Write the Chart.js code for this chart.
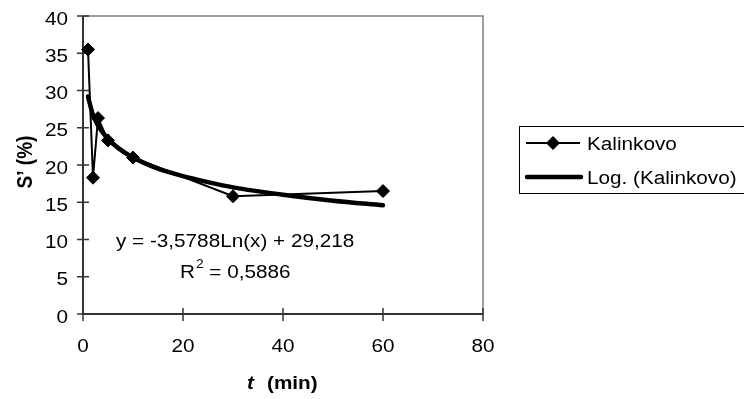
<!DOCTYPE html>
<html>
<head>
<meta charset="utf-8">
<script src="https://cdn.jsdelivr.net/npm/chart.js@4/dist/chart.umd.min.js"></script>
<style>
  html, body { margin: 0; padding: 0; background: #ffffff; }
  #wrap { width: 744px; height: 399px; position: relative; }
</style>
</head>
<body>
<div id="wrap"><canvas id="c" width="744" height="399"></canvas></div>
<script>
// ---- data ----
const timeMin = [1, 2, 3, 5, 10, 30, 60];
const kalinkovo = [35.5, 18.3, 26.3, 23.3, 21.0, 15.8, 16.5];
const trendTime = [1, 2, 3, 4, 5, 7, 10, 15, 20, 25, 30, 40, 50, 60];
const trendValues = [29.2, 26.7, 25.3, 24.3, 23.5, 22.3, 21.0, 19.5, 18.5, 17.7, 17.0, 16.0, 15.2, 14.6];
const xTickValues = [0, 20, 40, 60, 80];
const yTickValues = [0, 5, 10, 15, 20, 25, 30, 35, 40];
const seriesLabels = ['Kalinkovo', 'Log. (Kalinkovo)'];
const equationText = 'y = -3,5788Ln(x) + 29,218';
const r2Value = '0,5886';

const FONT = '"Liberation Sans", Arial, sans-serif';
const SX = 1.15; // the reference text is drawn horizontally widened

const pointsOf = (xs, ys) => xs.map((x, i) => ({ x: x, y: ys[i] }));

function wideText(ctx, text, x, y, align) {
  ctx.save();
  ctx.translate(x, y);
  ctx.scale(SX, 1);
  ctx.textAlign = align || 'left';
  ctx.fillText(text, 0, 0);
  ctx.restore();
  return ctx.measureText(text).width * SX;
}

const decorPlugin = {
  id: 'decor',
  beforeDatasetsDraw(chart) {
    const { ctx, chartArea: a, scales } = chart;
    ctx.save();
    // top and right frame of the plot area
    ctx.strokeStyle = '#808080';
    ctx.lineWidth = 1.5;
    ctx.beginPath();
    ctx.moveTo(a.left, a.top); ctx.lineTo(a.right, a.top); ctx.lineTo(a.right, a.bottom);
    ctx.stroke();
    // crossing tick marks
    ctx.strokeStyle = '#333';
    ctx.lineWidth = 1.5;
    yTickValues.forEach(v => {
      const y = scales.y.getPixelForValue(v);
      ctx.beginPath(); ctx.moveTo(a.left - 6, y); ctx.lineTo(a.left + 6, y); ctx.stroke();
    });
    xTickValues.forEach(v => {
      const x = scales.x.getPixelForValue(v);
      ctx.beginPath(); ctx.moveTo(x, a.bottom - 6); ctx.lineTo(x, a.bottom + 7); ctx.stroke();
    });
    // axis lines
    ctx.strokeStyle = '#333';
    ctx.lineWidth = 2;
    ctx.beginPath();
    ctx.moveTo(a.left, a.top); ctx.lineTo(a.left, a.bottom); ctx.lineTo(a.right, a.bottom);
    ctx.stroke();
    ctx.restore();
  },
  afterDraw(chart) {
    const { ctx, chartArea: a, scales } = chart;
    ctx.save();
    ctx.fillStyle = '#000';
    ctx.textBaseline = 'alphabetic';
    ctx.font = '18px ' + FONT;

    // tick labels
    yTickValues.forEach(v => {
      wideText(ctx, String(v), a.left - 15, scales.y.getPixelForValue(v) + 8.5, 'right');
    });
    xTickValues.forEach(v => {
      wideText(ctx, String(v), scales.x.getPixelForValue(v), a.bottom + 38, 'center');
    });

    // equation text
    wideText(ctx, equationText, 116, 247, 'left');
    let rx = 180;
    rx += wideText(ctx, 'R', rx, 278, 'left');
    ctx.font = '12px ' + FONT;
    rx += wideText(ctx, '2', rx + 1, 268, 'left') + 1;
    ctx.font = '18px ' + FONT;
    wideText(ctx, ' = ' + r2Value, rx, 278, 'left');

    // x axis title: t (min)
    ctx.font = 'italic bold 18px ' + FONT;
    wideText(ctx, 't', 247, 389, 'left');
    ctx.font = 'bold 18px ' + FONT;
    wideText(ctx, '(min)', 267, 389, 'left');

    // y axis title (rotated; widening acts across the text)
    ctx.save();
    ctx.translate(32, 162);
    ctx.rotate(-Math.PI / 2);
    ctx.scale(1, SX);
    ctx.textAlign = 'center';
    ctx.font = 'bold 19px ' + FONT;
    ctx.fillText('S\u2019 (%)', 0, 0);
    ctx.restore();

    // legend box
    const lx = 519, ly = 126, lw = 240, lh = 67;
    ctx.fillStyle = '#fff';
    ctx.fillRect(lx, ly, lw, lh);
    ctx.strokeStyle = '#000';
    ctx.lineWidth = 1;
    ctx.strokeRect(lx + 0.5, ly + 0.5, lw, lh);
    const ds = chart.data.datasets;
    // entry 1
    ctx.strokeStyle = ds[0].borderColor;
    ctx.lineWidth = ds[0].borderWidth;
    ctx.beginPath(); ctx.moveTo(526, 143); ctx.lineTo(580, 143); ctx.stroke();
    ctx.fillStyle = '#000';
    ctx.beginPath();
    ctx.moveTo(553, 136); ctx.lineTo(560, 143); ctx.lineTo(553, 150); ctx.lineTo(546, 143); ctx.closePath();
    ctx.fill();
    // entry 2
    ctx.strokeStyle = ds[1].borderColor;
    ctx.lineWidth = ds[1].borderWidth;
    ctx.lineCap = 'round';
    ctx.beginPath(); ctx.moveTo(527, 177); ctx.lineTo(581, 177); ctx.stroke();
    ctx.font = '18px ' + FONT;
    ctx.fillStyle = '#000';
    wideText(ctx, ds[0].label, 587, 150, 'left');
    wideText(ctx, ds[1].label, 587, 184, 'left');
    ctx.restore();
  }
};

new Chart(document.getElementById('c'), {
  type: 'scatter',
  data: {
    datasets: [
      {
        label: seriesLabels[0],
        data: pointsOf(timeMin, kalinkovo),
        showLine: true,
        borderColor: '#000',
        backgroundColor: '#000',
        borderWidth: 2,
        pointStyle: 'rectRot',
        pointRadius: 6.5,
        pointBorderWidth: 1,
        tension: 0,
        order: 1
      },
      {
        label: seriesLabels[1],
        data: pointsOf(trendTime, trendValues),
        showLine: true,
        borderColor: '#000',
        backgroundColor: '#000',
        borderWidth: 4.5,
        borderCapStyle: 'round',
        pointRadius: 0,
        cubicInterpolationMode: 'monotone',
        order: 2
      }
    ]
  },
  options: {
    responsive: false,
    animation: false,
    clip: false,
    layout: { padding: { left: 0, top: 16, right: 261, bottom: 0 } },
    plugins: { legend: { display: false }, tooltip: { enabled: false } },
    scales: {
      x: {
        type: 'linear',
        min: 0, max: 80,
        afterBuildTicks: s => { s.ticks = xTickValues.map(v => ({ value: v })); },
        afterFit: s => { s.height = 85; },
        grid: { display: false, drawTicks: false },
        border: { display: false },
        ticks: { display: false }
      },
      y: {
        type: 'linear',
        min: 0, max: 40,
        afterBuildTicks: s => { s.ticks = yTickValues.map(v => ({ value: v })); },
        afterFit: s => { s.width = 83; },
        grid: { display: false, drawTicks: false },
        border: { display: false },
        ticks: { display: false }
      }
    }
  },
  plugins: [decorPlugin]
});
</script>
</body>
</html>
